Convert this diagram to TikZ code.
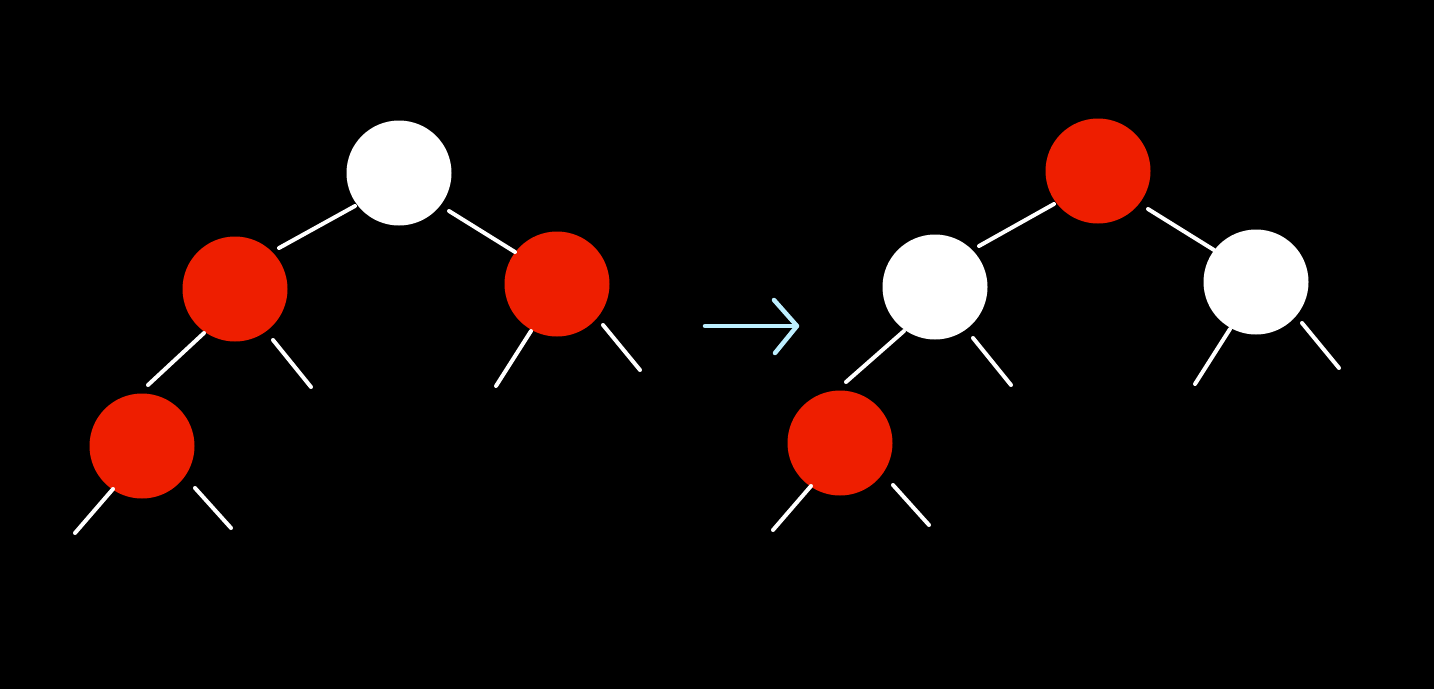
\documentclass[tikz,border=0pt]{standalone}
\usetikzlibrary{calc}
\definecolor{rbred}{HTML}{EE1E00}
\definecolor{arrowcyan}{HTML}{BDEFFF}
\tikzset{
  rbnode/.style={circle, minimum size=105pt, inner sep=0pt, outer sep=0pt},
  rednode/.style={rbnode, fill=rbred},
  whitenode/.style={rbnode, fill=white},
  edge/.style={draw=white, line width=4pt, line cap=round},
  arrowline/.style={draw=arrowcyan, line width=4.5pt, line cap=round, line join=round}
}
\begin{document}
\begin{tikzpicture}[x=1pt,y=-1pt]
\fill[black] (0,0) rectangle (1434,689);
\useasboundingbox (0,0) rectangle (1434,689);
% left tree
\node[whitenode] (a) at (399,173) {};
\node[rednode] (b) at (235,289) {};
\node[rednode] (c) at (557,284) {};
\node[rednode] (d) at (142,446) {};
\draw[edge] ($(a)+(-44,33)$) -- ($(b)+(44,-41)$);
\draw[edge] ($(a)+(50,38)$) -- ($(c)+(-42,-32)$);
\draw[edge] ($(b)+(-31,44)$) -- ($(d)+(6,-61)$);
\coordinate (b1) at ($(b)+(76,98)$);
\coordinate (c0) at ($(c)+(-61,102)$);
\coordinate (c1) at ($(c)+(83,86)$);
\coordinate (d0) at ($(d)+(-67,87)$);
\coordinate (d1) at ($(d)+(89,82)$);
\draw[edge] ($(b)+(38,51)$) -- (b1);
\draw[edge] ($(c)+(-26,47)$) -- (c0);
\draw[edge] ($(c)+(46,41)$) -- (c1);
\draw[edge] ($(d)+(-29,43)$) -- (d0);
\draw[edge] ($(d)+(53,42)$) -- (d1);
% arrow
\coordinate (s0) at (705,326);
\coordinate (s1) at (797,326);
\coordinate (h0) at (774,300);
\coordinate (h1) at (775,353);
\draw[arrowline] (s0) -- (s1);
\draw[arrowline] (h0) -- (s1) -- (h1);
% right tree
\node[rednode] (A) at (1098,171) {};
\node[whitenode] (B) at (935,287) {};
\node[whitenode] (C) at (1256,282) {};
\node[rednode] (D) at (840,443) {};
\draw[edge] ($(A)+(-44,33)$) -- ($(B)+(44,-41)$);
\draw[edge] ($(A)+(50,38)$) -- ($(C)+(-42,-32)$);
\draw[edge] ($(B)+(-31,44)$) -- ($(D)+(6,-61)$);
\coordinate (B1) at ($(B)+(76,98)$);
\coordinate (C0) at ($(C)+(-61,102)$);
\coordinate (C1) at ($(C)+(83,86)$);
\coordinate (D0) at ($(D)+(-67,87)$);
\coordinate (D1) at ($(D)+(89,82)$);
\draw[edge] ($(B)+(38,51)$) -- (B1);
\draw[edge] ($(C)+(-26,47)$) -- (C0);
\draw[edge] ($(C)+(46,41)$) -- (C1);
\draw[edge] ($(D)+(-29,43)$) -- (D0);
\draw[edge] ($(D)+(53,42)$) -- (D1);
\end{tikzpicture}
\end{document}
